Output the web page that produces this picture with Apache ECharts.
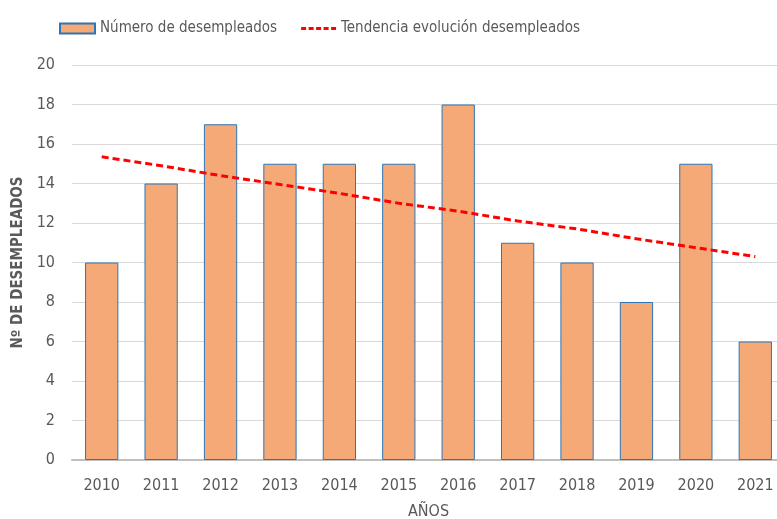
<!DOCTYPE html>
<html><head><meta charset="utf-8">
<script src="https://cdn.jsdelivr.net/npm/echarts@6/dist/echarts.min.js"></script>
<style>html,body{margin:0;padding:0;background:#fff}#c{width:777px;height:519px}</style>
</head><body><div id="c"></div>
<script>
var years = ['2010','2011','2012','2013','2014','2015','2016','2017','2018','2019','2020','2021'];
var desempleados = [10,14,17,15,15,15,18,11,10,8,15,6];
var tendencia = [15.35,14.9,14.4,13.95,13.5,13.0,12.6,12.1,11.7,11.2,10.75,10.3];
var yTicks = [0,2,4,6,8,10,12,14,16,18,20];

var font = '"Liberation Sans Narrow", "DejaVu Sans Condensed", "Liberation Sans"';
var dashIcon = 'path://M0,0h0.01v0.01h-0.01z M35,10h0.01v0.01h-0.01z M0,3.6h5v2.8h-5z M7.5,3.6h5v2.8h-5z M15,3.6h5v2.8h-5z M22.5,3.6h5v2.8h-5z M30,3.6h5v2.8h-5z';
var chart = echarts.init(document.getElementById('c'));
chart.setOption({
  animation:false,
  textStyle:{fontFamily:font},
  legend:{
    top:16, left:54,
    itemGap:24, itemWidth:35, itemHeight:10,
    textStyle:{color:'#595959', fontSize:15, fontFamily:font},
    data:[
      {name:'Número de desempleados', icon:'rect'},
      {name:'Tendencia evolución desempleados', icon:dashIcon, itemStyle:{color:'#ff0000'}}
    ]
  },
  grid:{left:72, right:-8, top:65, bottom:59, outerBoundsMode:'none', containLabel:false},
  xAxis:{
    type:'category', data:years,
    name:'AÑOS', nameLocation:'middle', nameGap:44,
    nameTextStyle:{color:'#595959', fontSize:16},
    axisLine:{lineStyle:{color:'#bfbfbf', width:2}},
    axisTick:{show:false},
    axisLabel:{color:'#595959', fontSize:16, margin:18}
  },
  yAxis:{
    type:'value', min:yTicks[0], max:yTicks[yTicks.length-1], interval:2,
    name:'Nº DE DESEMPLEADOS', nameLocation:'middle', nameGap:46, nameRotate:90,
    nameTextStyle:{color:'#595959', fontSize:15, fontWeight:'bold'},
    axisLine:{show:false}, axisTick:{show:false},
    axisLabel:{color:'#595959', fontSize:16, margin:17},
    splitLine:{lineStyle:{color:'#d9d9d9', width:1}}
  },
  series:[
    {
      name:'Número de desempleados', type:'bar', data:desempleados,
      barCategoryGap:'44%',
      itemStyle:{color:'#f4a977', borderColor:'#2e75b6', borderWidth:1}
    },
    {
      name:'Tendencia evolución desempleados', type:'line', data:tendencia,
      symbol:'none',
      lineStyle:{color:'#ff0000', width:3, type:[7,4]},
      itemStyle:{color:'#ff0000'}
    }
  ]
});
</script></body></html>
